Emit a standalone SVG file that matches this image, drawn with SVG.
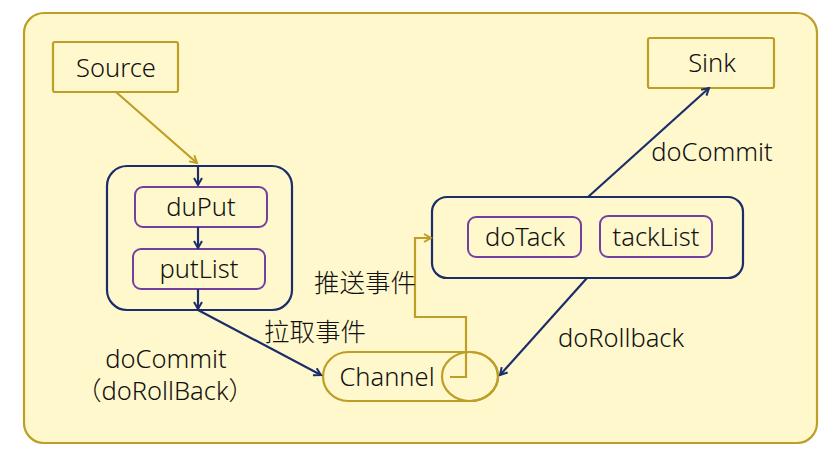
<svg xmlns="http://www.w3.org/2000/svg" width="839" height="455" viewBox="0 0 839 455">
<style>
.t{font-family:"Noto Sans","Noto Sans CJK SC",sans-serif;font-size:25.5px;font-weight:300;fill:#111;text-anchor:middle;dominant-baseline:central}
.gold{fill:none;stroke:#BD9E26;stroke-width:2.2}
.navy{fill:none;stroke:#1B2D6B;stroke-width:2.2}
.pur{fill:none;stroke:#7440A0;stroke-width:2}
</style>
<defs>
<marker id="ag" markerWidth="10" markerHeight="10" refX="8" refY="5" orient="auto" markerUnits="userSpaceOnUse"><path d="M1,1 L8,5 L1,9" fill="none" stroke="#BD9E26" stroke-width="2"/></marker>
<marker id="an" markerWidth="10" markerHeight="10" refX="8" refY="5" orient="auto" markerUnits="userSpaceOnUse"><path d="M1,1 L8,5 L1,9" fill="none" stroke="#1B2D6B" stroke-width="2"/></marker>
</defs>
<rect x="0" y="0" width="839" height="455" fill="#fff"/>
<rect id="frame" x="24" y="13" width="793" height="430" rx="20" fill="#FFF8CC" stroke="#BD9E26" stroke-width="2.2"/>
<g id="source"><rect x="53" y="42" width="125" height="50" rx="2" fill="#FFF8CC" class="gold"/><text class="t" x="116" y="67">Source</text></g>
<g id="sink"><rect x="648" y="38" width="126" height="50" rx="2" fill="#FFF8CC" class="gold"/><text class="t" x="712" y="62">Sink</text></g>
<g id="put-tx"><rect x="107" y="166" width="185" height="144" rx="20" class="navy"/></g>
<g id="duput"><rect x="135" y="187" width="132" height="40" rx="8" class="pur"/><text class="t" x="201" y="206">duPut</text></g>
<g id="putlist"><rect x="133" y="249" width="132" height="40" rx="8" class="pur"/><text class="t" x="199" y="268">putList</text></g>
<g id="take-tx"><rect x="432" y="197" width="311" height="81" rx="15" class="navy"/></g>
<g id="dotack"><rect x="468" y="217" width="113" height="40" rx="8" class="pur"/><text class="t" x="525" y="236">doTack</text></g>
<g id="tacklist"><rect x="600" y="216" width="112" height="41" rx="8" class="pur"/><text class="t" x="656" y="236">tackList</text></g>
<g id="channel">
<path d="M348,352 L470,352 A28,24.5 0 0 1 470,401 L348,401 A25,24.5 0 0 1 348,352 Z" fill="#FFF8CC" class="gold"/>
<ellipse cx="470" cy="376.5" rx="28" ry="24.5" class="gold"/>
<text class="t" x="387" y="376">Channel</text>
</g>
<g id="connectors">
<path d="M116,92 L197,163" class="gold" marker-end="url(#ag)"/>
<path d="M450,377 L466,377 L466,317 L415,317 L415,238 L431,238" class="gold" marker-end="url(#ag)"/>
<path d="M198,166 L198,185" class="navy" marker-end="url(#an)"/>
<path d="M198,227 L198,248" class="navy" marker-end="url(#an)"/>
<path d="M198,289 L198,309" class="navy" marker-end="url(#an)"/>
<path d="M198,310 L321,375" class="navy" marker-end="url(#an)"/>
<path d="M588,197 L709,88" class="navy" marker-end="url(#an)"/>
<path d="M587,278 L500,375" class="navy" marker-end="url(#an)"/>
</g>
<g id="labels">
<text class="t" x="315" y="331">拉取事件</text>
<text class="t" x="365" y="282">推送事件</text>
<text class="t" x="166" y="358">doCommit</text>
<text class="t" x="165" y="390">（doRollBack）</text>
<text class="t" x="712" y="151">doCommit</text>
<text class="t" x="621" y="337">doRollback</text>
</g>
</svg>
